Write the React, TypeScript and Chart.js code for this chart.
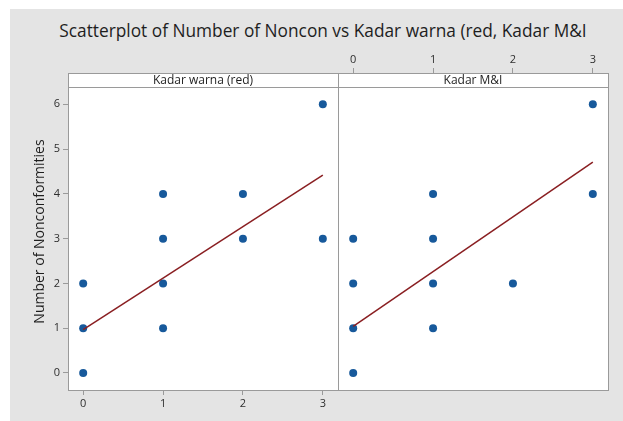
import React, { useEffect, useRef } from 'react';
import { Chart, registerables } from 'chart.js';

Chart.register(...registerables);

// Axis ticks shared by both panels
const xTicks = [0, 1, 2, 3];
const yTicks = [0, 1, 2, 3, 4, 5, 6];

// Panel 1: Kadar warna (red)
const warnaX = [0, 0, 0, 1, 1, 1, 1, 2, 2, 3, 3];
const warnaY = [0, 1, 2, 1, 2, 3, 4, 3, 4, 3, 6];
const warnaFitX = [0, 3];
const warnaFitY = [0.97, 4.42];

// Panel 2: Kadar M&I
const miX = [0, 0, 0, 0, 1, 1, 1, 1, 2, 3, 3];
const miY = [0, 1, 2, 3, 1, 2, 3, 4, 2, 4, 6];
const miFitX = [0, 3];
const miFitY = [1.04, 4.71];

const panelTitles = ['Kadar warna (red)', 'Kadar M&I'];
const chartTitle = 'Scatterplot of Number of Noncon vs Kadar warna (red, Kadar M&I';
const yTitle = 'Number of Nonconformities';

const FONT = "'Open Sans', 'Noto Sans', sans-serif";
const POINT_COLOR = '#17599b';
const FIT_COLOR = '#8a1f22';
const FRAME_COLOR = '#9a9a9a';
const TICK_COLOR = '#2e2e2e';

const X_MIN = -0.19;
const X_MAX = 3.19;
const Y_MIN = -0.38;
const Y_MAX = 6.7;
const STRIP_H = 14;

const toPoints = (xs: number[], ys: number[]) => xs.map((x, i) => ({ x, y: ys[i] }));

// Draws the white plot background, the label strip and the panel frame
const panelPlugin = (label: string) => ({
  id: 'panelFrame',
  beforeDraw(chart: any) {
    const { ctx, chartArea: a } = chart;
    ctx.save();
    ctx.fillStyle = '#ffffff';
    ctx.fillRect(a.left, a.top, a.right - a.left, a.bottom - a.top);
    ctx.restore();
  },
  afterDraw(chart: any) {
    const { ctx, chartArea: a } = chart;
    ctx.save();
    const l = Math.floor(a.left) + 0.5;
    const r = Math.floor(a.right) + 0.5;
    const t = Math.floor(a.top) + 0.5;
    const b = Math.floor(a.bottom) + 0.5;
    ctx.fillStyle = '#ffffff';
    ctx.fillRect(a.left, a.top, a.right - a.left, STRIP_H);
    ctx.strokeStyle = FRAME_COLOR;
    ctx.lineWidth = 1;
    ctx.beginPath();
    ctx.moveTo(l, t + STRIP_H);
    ctx.lineTo(r, t + STRIP_H);
    ctx.stroke();
    ctx.strokeRect(l, t, r - l, b - t);
    ctx.fillStyle = '#1e1e1e';
    ctx.font = `12px ${FONT}`;
    ctx.textAlign = 'center';
    ctx.textBaseline = 'middle';
    ctx.fillText(label, (a.left + a.right) / 2, a.top + STRIP_H / 2 + 1);
    ctx.restore();
  },
});

const tickGrid = {
  display: true,
  drawOnChartArea: false,
  drawTicks: true,
  tickLength: 5,
  color: FRAME_COLOR,
  tickColor: FRAME_COLOR,
};

const tickFont = { family: FONT, size: 11 };

function makeDatasets(xs: number[], ys: number[], fx: number[], fy: number[]) {
  return [
    {
      type: 'line' as const,
      data: toPoints(fx, fy),
      borderColor: FIT_COLOR,
      borderWidth: 1.5,
      pointRadius: 0,
      showLine: true,
      fill: false,
    },
    {
      type: 'scatter' as const,
      data: toPoints(xs, ys),
      backgroundColor: POINT_COLOR,
      borderWidth: 0,
      pointRadius: 4,
      pointHoverRadius: 4,
    },
  ];
}

export default function App() {
  const leftRef = useRef<HTMLCanvasElement>(null);
  const rightRef = useRef<HTMLCanvasElement>(null);

  useEffect(() => {
    const setTicks = (vals: number[]) => (scale: any) => {
      scale.ticks = vals.map((v) => ({ value: v }));
    };

    const left = new Chart(leftRef.current!, {
      type: 'scatter',
      data: { datasets: makeDatasets(warnaX, warnaY, warnaFitX, warnaFitY) as any },
      options: {
        responsive: false,
        animation: false,
        devicePixelRatio: 1,
        layout: { autoPadding: false, padding: { top: 73, left: 0, right: 1, bottom: 0 } },
        plugins: { legend: { display: false }, tooltip: { enabled: false } },
        scales: {
          x: {
            type: 'linear',
            position: 'bottom',
            min: X_MIN,
            max: X_MAX,
            afterBuildTicks: setTicks(xTicks),
            afterFit: (s: any) => { s.height = 31; },
            grid: tickGrid,
            border: { display: false },
            ticks: { font: tickFont, color: TICK_COLOR, padding: 2, maxRotation: 0 },
          },
          y: {
            type: 'linear',
            position: 'left',
            min: Y_MIN,
            max: Y_MAX,
            afterBuildTicks: setTicks(yTicks),
            afterFit: (s: any) => { s.width = 68; },
            grid: tickGrid,
            border: { display: false },
            ticks: { font: tickFont, color: TICK_COLOR, padding: 3 },
            title: {
              display: true,
              text: yTitle,
              font: { family: FONT, size: 14 },
              color: '#1e1e1e',
              padding: { top: 32, bottom: 0 },
            },
          },
        },
      },
      plugins: [panelPlugin(panelTitles[0])],
    } as any);

    const right = new Chart(rightRef.current!, {
      type: 'scatter',
      data: { datasets: makeDatasets(miX, miY, miFitX, miFitY) as any },
      options: {
        responsive: false,
        animation: false,
        devicePixelRatio: 1,
        layout: { autoPadding: false, padding: { top: 53, left: 1, right: 15, bottom: 31 } },
        plugins: { legend: { display: false }, tooltip: { enabled: false } },
        scales: {
          x: {
            type: 'linear',
            position: 'top',
            min: X_MIN,
            max: X_MAX,
            afterBuildTicks: setTicks(xTicks),
            afterFit: (s: any) => { s.height = 20; },
            grid: tickGrid,
            border: { display: false },
            ticks: { font: tickFont, color: TICK_COLOR, padding: 2, maxRotation: 0 },
          },
          y: {
            type: 'linear',
            display: false,
            min: Y_MIN,
            max: Y_MAX,
          },
        },
      },
      plugins: [panelPlugin(panelTitles[1])],
    } as any);

    return () => {
      left.destroy();
      right.destroy();
    };
  }, []);

  return (
    <div style={{ position: 'absolute', left: 0, top: 0, width: 623, height: 421, background: '#ffffff', overflow: 'hidden' }}>
      <div style={{ position: 'absolute', left: 10, top: 9, right: 0, bottom: 0, background: '#e4e4e4' }} />
      <div
        style={{
          position: 'absolute',
          left: 0,
          top: 19,
          width: 646,
          textAlign: 'center',
          fontFamily: FONT,
          fontSize: 17.3,
          lineHeight: '24px',
          color: '#1e1e1e',
          whiteSpace: 'nowrap',
        }}
      >
        {chartTitle}
      </div>
      <canvas ref={leftRef} width={339} height={421} style={{ position: 'absolute', left: 0, top: 0 }} />
      <canvas ref={rightRef} width={286} height={421} style={{ position: 'absolute', left: 337, top: 0 }} />
    </div>
  );
}
